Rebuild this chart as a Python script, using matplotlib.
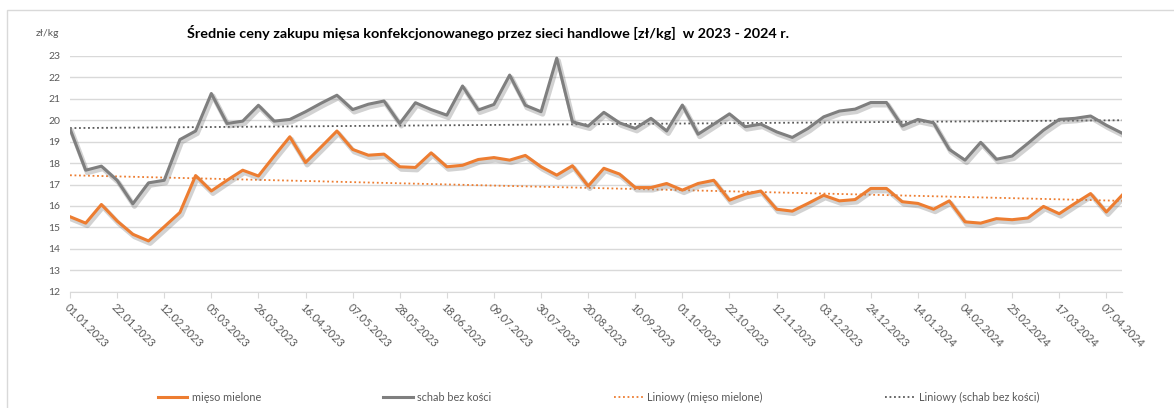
import numpy as np
import matplotlib
matplotlib.use('Agg')
import matplotlib.pyplot as plt
import matplotlib.patheffects as pe
from matplotlib.lines import Line2D
from matplotlib.patches import Rectangle

plt.rcParams['font.family'] = ['Lato', 'DejaVu Sans']

# --- DATA ---
tick_labels = ['01.01.2023', '22.01.2023', '12.02.2023', '05.03.2023', '26.03.2023',
               '16.04.2023', '07.05.2023', '28.05.2023', '18.06.2023', '09.07.2023',
               '30.07.2023', '20.08.2023', '10.09.2023', '01.10.2023', '22.10.2023',
               '12.11.2023', '03.12.2023', '24.12.2023', '14.01.2024', '04.02.2024',
               '25.02.2024', '17.03.2024', '07.04.2024']

mieso_mielone = [15.5, 15.2, 16.07, 15.3, 14.68, 14.37, 15.03, 15.7, 17.42, 16.7,
                 17.2, 17.67, 17.4, 18.33, 19.23, 18.03, 18.76, 19.5, 18.64, 18.37,
                 18.42, 17.83, 17.8, 18.48, 17.83, 17.9, 18.17, 18.26, 18.14, 18.36,
                 17.83, 17.44, 17.88, 16.93, 17.76, 17.49, 16.86, 16.86, 17.05, 16.74,
                 17.05, 17.2, 16.27, 16.55, 16.7, 15.85, 15.76, 16.12, 16.5, 16.24,
                 16.3, 16.82, 16.82, 16.2, 16.12, 15.85, 16.24, 15.26, 15.2, 15.41,
                 15.36, 15.44, 15.98, 15.64, 16.12, 16.58, 15.72, 16.5]

schab = [19.6, 17.67, 17.86, 17.2, 16.1, 17.08, 17.2, 19.1, 19.5, 21.25,
         19.85, 19.96, 20.7, 19.96, 20.04, 20.4, 20.8, 21.17, 20.5, 20.75,
         20.9, 19.85, 20.82, 20.5, 20.24, 21.6, 20.48, 20.74, 22.11, 20.7,
         20.4, 22.9, 19.93, 19.73, 20.37, 19.88, 19.62, 20.09, 19.5, 20.71,
         19.35, 19.82, 20.3, 19.7, 19.82, 19.46, 19.2, 19.62, 20.16, 20.43,
         20.52, 20.83, 20.83, 19.73, 20.04, 19.88, 18.64, 18.14, 18.97, 18.18,
         18.33, 18.92, 19.54, 20.04, 20.09, 20.2, 19.77, 19.4]

ORANGE = '#ED7D31'
GRAY = '#7F7F7F'
GRID = '#D9D9D9'
TXT = '#595959'

x = np.arange(len(mieso_mielone))

# linear trendlines (Excel "Liniowy")
tr_m = np.polyval(np.polyfit(x, mieso_mielone, 1), x)
tr_s = np.polyval(np.polyfit(x, schab, 1), x)

fig = plt.figure(figsize=(11.74, 4.08), dpi=100)
fig.patch.set_facecolor('white')
fig.patches.append(Rectangle((7 / 1174, -0.5), 1.5, 1.5 - 10 / 408, transform=fig.transFigure,
                             fill=False, edgecolor=GRID, linewidth=1))

ax = fig.add_axes([70 / 1174, 1 - 291.7 / 408, (1122 - 70) / 1174, (291.7 - 56) / 408])

shadow = [pe.SimpleLineShadow(offset=(1.2, -1.8), shadow_color='#808080', alpha=0.35, linewidth=3.6),
          pe.Normal()]

ax.plot(x, tr_s, color=TXT, linestyle=(0, (1, 1.5)), linewidth=1.3, zorder=3)
ax.plot(x, tr_m, color=ORANGE, linestyle=(0, (1, 1.5)), linewidth=1.3, zorder=3)
ax.plot(x, schab, color=GRAY, linewidth=2.2, path_effects=shadow, zorder=4)
ax.plot(x, mieso_mielone, color=ORANGE, linewidth=2.2, path_effects=shadow, zorder=4)

ax.set_xlim(0, len(x) - 1)
ax.set_ylim(12, 23)
ax.set_yticks(range(12, 24))
ax.grid(axis='y', color=GRID, linewidth=1)
ax.set_axisbelow(True)
for s in ['top', 'right', 'left']:
    ax.spines[s].set_visible(False)
ax.spines['bottom'].set_color(GRID)

ax.set_xticks(x[::3])
ax.set_xticklabels(tick_labels, rotation=-45, ha='left', va='top', rotation_mode='anchor')
ax.tick_params(axis='x', colors=GRID, length=4, labelcolor=TXT, labelsize=8, pad=3)
ax.tick_params(axis='y', length=0, labelcolor=TXT, labelsize=7.5, pad=7)

fig.text(0.416, 1 - 33 / 408, 'Średnie ceny zakupu mięsa konfekcjonowanego przez sieci handlowe [zł/kg]  w 2023 - 2024 r.',
         ha='center', va='center', fontsize=10.4, fontweight='bold', color='black')
fig.text(47 / 1174, 1 - 33 / 408, 'zł/kg', ha='center', va='center', fontsize=7.5, color=TXT)

handles = [Line2D([], [], color=ORANGE, linewidth=2.2),
           Line2D([], [], color=GRAY, linewidth=2.2),
           Line2D([], [], color=ORANGE, linestyle=(0, (1, 1.5)), linewidth=1.3),
           Line2D([], [], color=TXT, linestyle=(0, (1, 1.5)), linewidth=1.3)]
labels = ['mięso mielone', 'schab bez kości', 'Liniowy (mięso mielone)', 'Liniowy (schab bez kości)']
leg = fig.legend(handles, labels, loc='center', bbox_to_anchor=(0.51, 1 - 397 / 408), ncol=4,
                 frameon=False, fontsize=7.8, columnspacing=11.3, handlelength=2.7, handletextpad=0.4)
for t in leg.get_texts():
    t.set_color(TXT)

fig.savefig('out.png', dpi=100, facecolor='white')
